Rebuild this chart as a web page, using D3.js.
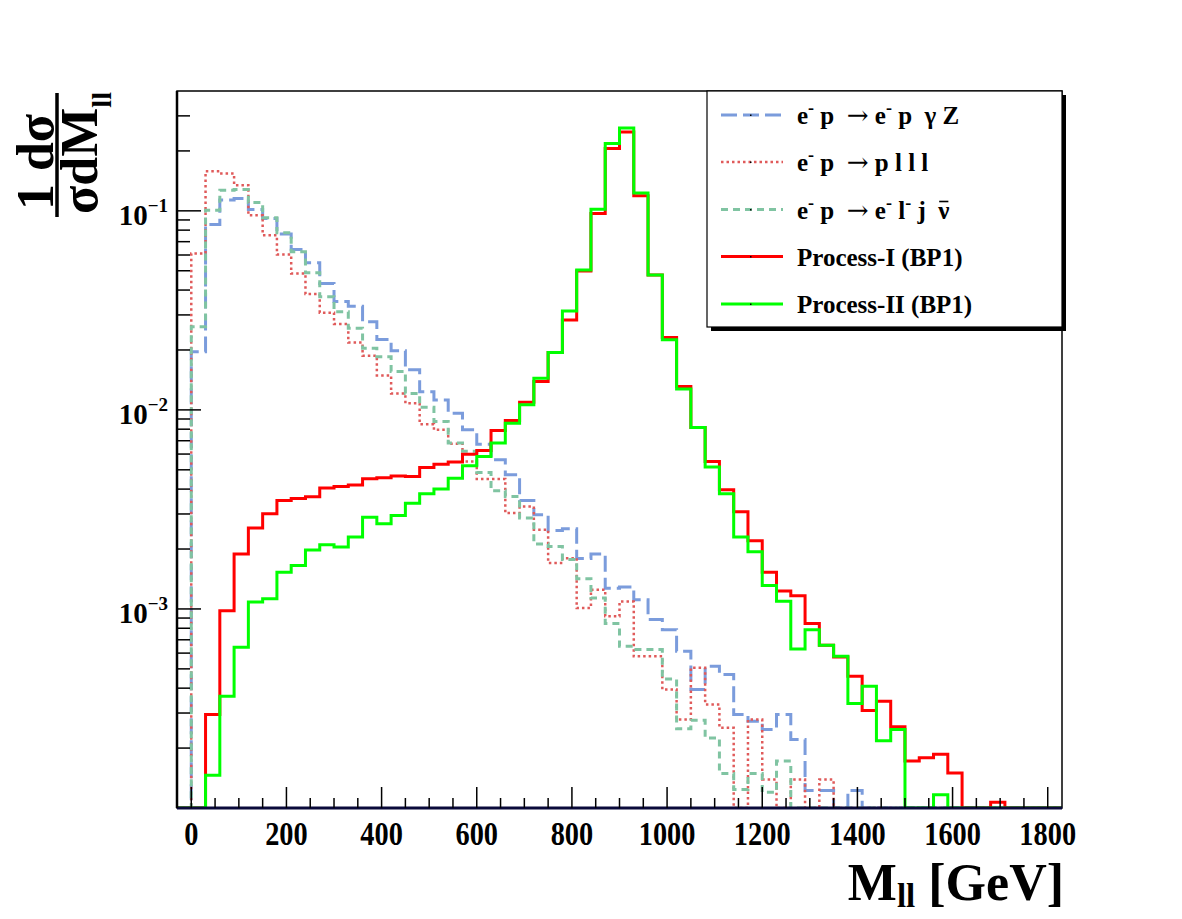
<!DOCTYPE html>
<html>
<head>
<meta charset="utf-8">
<script src="https://cdn.jsdelivr.net/npm/d3@7"></script>
<style>
  body { margin: 0; background: #fff; }
  svg text { font-family: "Liberation Serif", "Times New Roman", serif; font-weight: bold; white-space: pre; }
</style>
</head>
<body>
<svg id="chart" width="1182" height="919"></svg>
<script>
// Bin low edges [GeV], 30 GeV bins
const binLowEdges = [-30, 0, 30, 60, 90, 120, 150, 180, 210, 240, 270, 300, 330, 360, 390, 420, 450, 480, 510, 540,
    570, 600, 630, 660, 690, 720, 750, 780, 810, 840, 870, 900, 930, 960, 990, 1020, 1050, 1080, 1110, 1140,
    1170, 1200, 1230, 1260, 1290, 1320, 1350, 1380, 1410, 1440, 1470, 1500, 1530, 1560, 1590, 1620, 1650, 1680,
    1710, 1740, 1770, 1800];
const binWidth = 30;

// e- p -> e- p gamma Z
const epGammaZ = [0, 1.96e-2, 8.55e-2, 0.1132, 0.1154, 0.1016, 9.16e-2, 7.64e-2, 6.40e-2, 5.48e-2, 4.32e-2, 3.50e-2,
    3.32e-2, 2.77e-2, 2.26e-2, 1.98e-2, 1.59e-2, 1.235e-2, 1.12e-2, 9.62e-3, 7.94e-3, 6.73e-3, 5.61e-3, 4.72e-3,
    3.51e-3, 2.97e-3, 2.48e-3, 2.53e-3, 1.79e-3, 1.89e-3, 1.27e-3, 1.29e-3, 1.113e-3, 8.84e-4, 7.87e-4, 6.13e-4,
    3.94e-4, 5.15e-4, 4.68e-4, 2.95e-4, 2.73e-4, 2.48e-4, 2.95e-4, 2.21e-4, 1.225e-4, 1.225e-4, 0, 1.225e-4,
    0, 0, 0, 0, 0, 0, 0, 0, 0, 0, 0, 0, 0, 0];

// e- p -> p l l l
const epPlll = [0, 6.11e-2, 0.158, 0.154, 0.1346, 9.5e-2, 7.55e-2, 6.04e-2, 4.85e-2, 3.82e-2, 3.08e-2, 2.70e-2,
    2.18e-2, 1.87e-2, 1.49e-2, 1.21e-2, 1.08e-2, 8.48e-3, 7.94e-3, 6.75e-3, 5.50e-3, 4.49e-3, 4.49e-3, 3.03e-3,
    3.27e-3, 2.50e-3, 1.70e-3, 1.80e-3, 1.01e-3, 1.25e-3, 9.18e-4, 1.09e-3, 5.78e-4, 5.78e-4, 3.94e-4, 2.78e-4,
    5.06e-4, 3.31e-4, 2.53e-4, 0, 2.78e-4, 1.39e-4, 0, 1.39e-4, 0, 1.39e-4,
    0, 0, 0, 0, 0, 0, 0, 0, 0, 0, 0, 0, 0, 0, 0, 0];

// e- p -> e- l- j nubar
const epElJNu = [0, 2.62e-2, 0.1008, 0.127, 0.128, 0.110, 9.22e-2, 7.76e-2, 6.23e-2, 4.89e-2, 3.70e-2, 3.11e-2,
    2.57e-2, 2.04e-2, 1.85e-2, 1.56e-2, 1.21e-2, 1.03e-2, 8.74e-3, 6.81e-3, 6.20e-3, 4.85e-3, 3.92e-3, 3.67e-3,
    2.86e-3, 2.12e-3, 2.06e-3, 1.77e-3, 1.42e-3, 1.135e-3, 8.44e-4, 6.49e-4, 6.25e-4, 6.25e-4, 4.45e-4, 2.50e-4,
    2.76e-4, 2.25e-4, 1.49e-4, 1.24e-4, 1.49e-4, 1.2e-4, 1.72e-4,
    0, 0, 0, 0, 0, 0, 0, 0, 0, 0, 0, 0, 0, 0, 0, 0, 0, 0, 0, 0];

// Process-I (BP1)
const processI = [0, 0, 2.95e-4, 9.8e-4, 1.89e-3, 2.55e-3, 3.01e-3, 3.51e-3, 3.59e-3, 3.66e-3, 4.05e-3, 4.12e-3,
    4.20e-3, 4.51e-3, 4.56e-3, 4.66e-3, 4.63e-3, 5.13e-3, 5.34e-3, 5.47e-3, 5.99e-3, 6.25e-3, 7.87e-3, 8.84e-3,
    1.093e-2, 1.387e-2, 1.94e-2, 2.83e-2, 4.98e-2, 9.70e-2, 0.2056, 0.249, 0.119, 4.76e-2, 2.31e-2, 1.31e-2,
    8.15e-3, 5.50e-3, 3.97e-3, 3.08e-3, 2.20e-3, 1.53e-3, 1.23e-3, 1.166e-3, 8.44e-4, 6.57e-4, 5.73e-4, 4.59e-4,
    3.09e-4, 3.44e-4, 2.56e-4, 1.72e-4, 1.79e-4, 1.86e-4, 1.50e-4, 0, 0, 1.07e-4, 0, 0, 0, 0];

// Process-II (BP1)
const processII = [0, 0, 1.46e-4, 3.64e-4, 6.42e-4, 1.084e-3, 1.126e-3, 1.527e-3, 1.655e-3, 1.98e-3, 2.10e-3, 2.05e-3,
    2.30e-3, 2.89e-3, 2.68e-3, 2.95e-3, 3.40e-3, 3.79e-3, 4.00e-3, 4.54e-3, 5.24e-3, 5.83e-3, 6.81e-3, 8.58e-3,
    1.06e-2, 1.44e-2, 1.94e-2, 3.14e-2, 5.04e-2, 0.102, 0.218, 0.261, 0.123, 4.76e-2, 2.25e-2, 1.275e-2,
    8.15e-3, 5.16e-3, 3.79e-3, 2.30e-3, 1.94e-3, 1.31e-3, 1.092e-3, 6.30e-4, 7.87e-4, 6.57e-4, 5.78e-4, 3.35e-4,
    4.09e-4, 2.18e-4, 2.48e-4, 0, 0, 1.166e-4, 0, 0, 0, 0, 0, 0, 0, 0];

// Axis tick labels
const xTickValues = [0, 200, 400, 600, 800, 1000, 1200, 1400, 1600, 1800];
const yTickExponents = [-3, -2, -1];

// Series, in drawing order
const series = [
    { name: "epGammaZ", values: epGammaZ, color: "#7b9cdc", width: 3, dash: "16,6" },
    { name: "epPlll", values: epPlll, color: "#e05a5a", width: 2.5, dash: "2.5,3" },
    { name: "epElJNu", values: epElJNu, color: "#80c4a2", width: 3, dash: "7,5" },
    { name: "processI", values: processI, color: "#ff0000", width: 3, dash: null },
    { name: "processII", values: processII, color: "#00ff00", width: 3, dash: null }
];

const svg = d3.select('#chart');
const frame = { left: 177, right: 1062, top: 91, bottom: 808 };

const x = d3.scaleLinear().domain([-30, 1830]).range([frame.left, frame.right]);
const y = d3.scaleLog().domain([1e-4, 0.4]).range([frame.bottom, frame.top]);

// zero bins fall to the bottom of the frame
function yPos(v) {
    return v > 0 ? y(v) : frame.bottom;
}

svg.append('clipPath').attr('id', 'plotClip')
    .append('rect')
    .attr('x', frame.left)
    .attr('y', frame.top)
    .attr('width', frame.right - frame.left)
    .attr('height', frame.bottom - frame.top);

const line = d3.line()
    .x(d => x(d[0]))
    .y(d => yPos(d[1]))
    .curve(d3.curveStepAfter);

const histGroup = svg.append('g').attr('clip-path', 'url(#plotClip)');

series.forEach(s => {
    const pts = binLowEdges.map((e, i) => [e, s.values[i]]);
    pts.push([binLowEdges[binLowEdges.length - 1] + binWidth, s.values[s.values.length - 1]]);
    histGroup.append('path')
        .attr('d', line(pts))
        .attr('fill', 'none')
        .attr('stroke', s.color)
        .attr('stroke-width', s.width)
        .attr('stroke-dasharray', s.dash)
        .attr('stroke-linejoin', 'miter');
});

// Frame
svg.append('rect')
    .attr('x', frame.left)
    .attr('y', frame.top)
    .attr('width', frame.right - frame.left)
    .attr('height', frame.bottom - frame.top)
    .attr('fill', 'none')
    .attr('stroke', 'black')
    .attr('stroke-width', 1.5);
svg.append('line')
    .attr('x1', frame.left).attr('x2', frame.right)
    .attr('y1', frame.bottom).attr('y2', frame.bottom)
    .attr('stroke', '#0a0a3a')
    .attr('stroke-width', 3);
svg.append('line')
    .attr('x1', frame.left).attr('x2', frame.left)
    .attr('y1', frame.top).attr('y2', frame.bottom)
    .attr('stroke', 'black')
    .attr('stroke-width', 2.5);

// X ticks (inside, pointing up)
const xMinor = d3.range(0, 1830, 50);
svg.append('g').selectAll('line')
    .data(xMinor)
    .join('line')
    .attr('x1', d => x(d)).attr('x2', d => x(d))
    .attr('y1', frame.bottom)
    .attr('y2', d => frame.bottom - (d % 200 === 0 ? 21 : 10))
    .attr('stroke', 'black')
    .attr('stroke-width', 1.5);

svg.append('g').selectAll('text')
    .data(xTickValues)
    .join('text')
    .attr('transform', d => `translate(${x(d)},845) scale(0.86,1)`)
    .attr('text-anchor', 'middle')
    .attr('font-size', 33)
    .text(d => d);

// Y ticks (inside, pointing right)
const yTicks = y.ticks().filter(v => v > 1.0001e-4 && v < 0.399);
svg.append('g').selectAll('line')
    .data(yTicks)
    .join('line')
    .attr('x1', frame.left)
    .attr('x2', d => frame.left + (Math.abs(Math.log10(d) - Math.round(Math.log10(d))) < 1e-6 ? 24 : 13))
    .attr('y1', d => y(d)).attr('y2', d => y(d))
    .attr('stroke', 'black')
    .attr('stroke-width', 1.5);

const yLabels = svg.append('g').selectAll('text')
    .data(yTickExponents)
    .join('text')
    .attr('x', 168)
    .attr('y', d => y(Math.pow(10, d)) + 14)
    .attr('text-anchor', 'end');
yLabels.append('tspan').attr('font-size', 29).text('10');
yLabels.append('tspan').attr('font-size', 19).attr('dy', -13).text(d => '\u2212' + Math.abs(d));

// X axis title
const xTitle = svg.append('text')
    .attr('x', 1064)
    .attr('y', 900)
    .attr('text-anchor', 'end')
    .attr('font-size', 52);
xTitle.append('tspan').text('M');
xTitle.append('tspan').attr('font-size', 33).attr('dy', 7).text('ll');
xTitle.append('tspan').attr('dy', -7).text(' [GeV]');

// Y axis title: 1/sigma dsigma/dM_ll
const yTitle = svg.append('g').attr('transform', 'translate(57,155) rotate(-90)');
yTitle.append('text')
    .attr('x', -7)
    .attr('y', -4)
    .attr('text-anchor', 'middle')
    .attr('font-size', 52)
    .text('1 d\u03c3');
const den = yTitle.append('text')
    .attr('x', 2)
    .attr('y', 40)
    .attr('text-anchor', 'middle')
    .attr('font-size', 52);
den.append('tspan').text('\u03c3dM');
den.append('tspan').attr('font-size', 28).attr('dy', 14).text('ll');
yTitle.append('line')
    .attr('x1', -62).attr('x2', 62)
    .attr('y1', 0).attr('y2', 0)
    .attr('stroke', 'black')
    .attr('stroke-width', 3.5);

// Legend
const legendBox = { x: 707, y: 91, w: 355, h: 236 };
svg.append('rect')
    .attr('x', legendBox.x + 4).attr('y', legendBox.y + 4)
    .attr('width', legendBox.w).attr('height', legendBox.h)
    .attr('fill', 'black');
svg.append('rect')
    .attr('x', legendBox.x).attr('y', legendBox.y)
    .attr('width', legendBox.w).attr('height', legendBox.h)
    .attr('fill', 'white')
    .attr('stroke', 'black')
    .attr('stroke-width', 1.2);

const legendRows = [
    [{ t: 'e' }, { t: '-', sup: true }, { t: ' p  ' }, { t: '\u2192', arrow: true }, { t: ' e' }, { t: '-', sup: true }, { t: ' p  \u03b3 Z' }],
    [{ t: 'e' }, { t: '-', sup: true }, { t: ' p  ' }, { t: '\u2192', arrow: true }, { t: ' p l l l' }],
    [{ t: 'e' }, { t: '-', sup: true }, { t: ' p  ' }, { t: '\u2192', arrow: true }, { t: ' e' }, { t: '-', sup: true }, { t: ' l' }, { t: '-', sup: true },
        { t: ' j  ' }, { t: '\u03bd', bar: true }],
    [{ t: 'Process-I (BP1)' }],
    [{ t: 'Process-II (BP1)' }]
];
const legendRowY = [115, 162, 209.5, 256.5, 304];

series.forEach((s, i) => {
    const ry = legendRowY[i];
    svg.append('line')
        .attr('x1', 721).attr('x2', 783)
        .attr('y1', ry).attr('y2', ry)
        .attr('stroke', s.color)
        .attr('stroke-width', s.width)
        .attr('stroke-dasharray', s.dash);
    svg.append('rect')
        .attr('x', 750).attr('y', ry - 0.5)
        .attr('width', 1.5).attr('height', 1.5)
        .attr('fill', 'black');
    const t = svg.append('text')
        .attr('x', 797)
        .attr('y', ry + 9)
        .attr('font-size', 25);
    let lifted = false;
    legendRows[i].forEach(p => {
        const ts = t.append('tspan').text(p.t);
        if (p.sup) {
            ts.attr('font-size', 18).attr('dy', -10);
            lifted = true;
        } else if (lifted) {
            ts.attr('dy', 10);
            lifted = false;
        }
        if (p.arrow) {
            ts.style('font-family', '"DejaVu Serif", serif').style('font-weight', 'normal').attr('font-size', 26);
        }
    });
    // overline for the anti-neutrino
    const bars = legendRows[i].filter(p => p.bar);
    if (bars.length) {
        const node = t.node();
        const ext = node.getExtentOfChar(node.getNumberOfChars() - 1);
        svg.append('line')
            .attr('x1', ext.x + 1).attr('x2', ext.x + ext.width - 1)
            .attr('y1', ry - 8).attr('y2', ry - 8)
            .attr('stroke', 'black')
            .attr('stroke-width', 1.6);
    }
});
</script>
</body>
</html>
